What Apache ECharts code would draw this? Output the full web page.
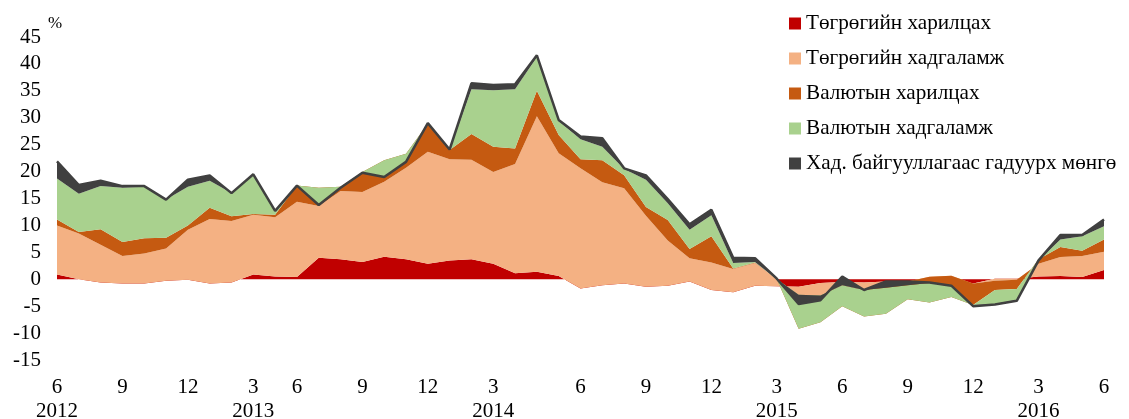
<!DOCTYPE html>
<html>
<head>
<meta charset="utf-8">
<script src="https://cdn.jsdelivr.net/npm/echarts@6/dist/echarts.min.js"></script>
<style>
html,body{margin:0;padding:0;background:#fff;}
#chart{width:1129px;height:419px;}
</style>
</head>
<body>
<div id="chart"></div>
<script>
// Monthly periods, 2012-06 .. 2016-06
const periods = [
  '2012-06','2012-07','2012-08','2012-09','2012-10','2012-11','2012-12',
  '2013-01','2013-02','2013-03','2013-04','2013-05','2013-06','2013-07','2013-08','2013-09','2013-10','2013-11','2013-12',
  '2014-01','2014-02','2014-03','2014-04','2014-05','2014-06','2014-07','2014-08','2014-09','2014-10','2014-11','2014-12',
  '2015-01','2015-02','2015-03','2015-04','2015-05','2015-06','2015-07','2015-08','2015-09','2015-10','2015-11','2015-12',
  '2016-01','2016-02','2016-03','2016-04','2016-05','2016-06'
];
// Tick labels as printed under the axis (one per period, blank = no label)
const tickLabels = [
  '6\n2012','','','9','','','12','','','3\n2013','','6','','','9','','','12','','',
  '3\n2014','','','','6','','','9','','','12','','','3\n2015','','','6','','','9',
  '','','12','','','3\n2016','','','6'
];
const yTicks = [-15,-10,-5,0,5,10,15,20,25,30,35,40,45];

const seriesNames = [
  'Төгрөгийн харилцах',
  'Төгрөгийн хадгаламж',
  'Валютын харилцах',
  'Валютын хадгаламж',
  'Хад. байгууллагаас гадуурх мөнгө'
];

// Contributions (percentage points), stacked cumulatively
const mntCurrent = [
  0.9,0.0,-0.6,-0.8,-0.8,-0.3,-0.1,-0.8,-0.6,0.9,0.5,0.4,4.0,3.7,3.2,4.2,3.7,2.9,3.5,3.7,
  2.9,1.1,1.4,0.6,-1.7,-1.1,-0.8,-1.4,-1.2,-0.4,-2.0,-2.4,-1.2,-1.3,-1.4,-0.7,-0.5,-0.6,-0.4,-0.4,
  -0.3,-0.3,-0.8,0.1,0.1,0.5,0.6,0.4,1.7
];
const mntDeposits = [
  9.1,8.5,7.0,5.1,5.6,6.0,9.3,12.0,11.4,11.1,11.0,14.0,9.6,12.7,13.0,13.9,17.0,20.8,18.8,18.5,
  17.0,20.3,28.9,22.8,22.3,19.1,17.7,13.2,8.4,4.3,5.1,4.3,4.2,1.3,-1.5,-2.3,-0.6,-1.4,0.0,0.0,
  0.75,0.95,0.0,-0.4,-0.2,2.4,3.55,3.9,3.4
];
const fxCurrent = [
  1.1,0.3,2.9,2.6,2.8,2.0,0.8,2.1,0.9,0.1,0.5,3.0,3.4,0.8,3.7,4.0,2.6,5.2,1.7,4.8,
  4.7,2.9,4.7,3.4,1.7,4.1,2.4,1.6,3.8,1.7,4.9,0.1,0.1,0.0,-6.3,-5.0,-3.9,-4.9,-6.0,-3.3,
  -4.75,-3.95,-4.0,-1.7,-1.7,0.8,1.85,1.0,2.3
];
const fxDeposits = [
  7.6,7.1,8.0,10.1,9.6,7.1,7.2,5.0,4.3,7.2,0.6,0.0,-3.2,-0.2,-0.1,-3.1,-1.5,0.0,0.0,8.3,
  10.5,11.0,6.3,2.6,3.7,2.5,1.2,5.1,3.1,3.6,3.9,1.0,0.1,0.0,6.3,5.0,3.9,4.9,4.8,2.6,
  3.6,2.1,0.0,-2.6,-2.0,-0.2,1.4,2.7,2.45
];
const currencyOutside = [
  3.2,1.6,1.0,0.3,0.1,0.0,1.3,1.0,0.0,0.2,0.1,0.0,0.0,0.0,0.0,0.0,0.0,0.1,0.1,1.1,
  1.0,0.9,0.3,0.2,0.5,1.6,0.1,0.8,0.8,1.0,1.0,1.0,0.7,0.1,-1.7,-0.9,1.6,0.0,1.2,0.7,
  0.1,0.0,-0.2,-0.1,-0.2,0.0,0.8,0.2,1.25
];

const seriesData = [mntCurrent, mntDeposits, fxCurrent, fxDeposits, currencyOutside];
const colors = ['#C00000', '#F4B183', '#C55A11', '#A9D18E', '#404040'];

const FONT = '"Liberation Serif", "Times New Roman", serif';

const chart = echarts.init(document.getElementById('chart'), null, {renderer: 'canvas'});

const series = seriesData.map((d, k) => ({
  name: seriesNames[k],
  type: 'line',
  stack: 'total',
  stackStrategy: 'all',
  data: d,
  showSymbol: false,
  symbol: 'none',
  color: colors[k],
  itemStyle: {color: colors[k]},
  lineStyle: k === 4 ? {width: 2.5, color: colors[k]} : {width: 0, color: colors[k]},
  areaStyle: {color: colors[k], opacity: 1},
  emphasis: {disabled: true}
}));

chart.setOption({
  animation: false,
  backgroundColor: '#fff',
  textStyle: {fontFamily: FONT},
  grid: {left: 57, right: 25, top: 37, bottom: 59, containLabel: false, outerBoundsMode: 'none'},
  legend: {
    orient: 'vertical',
    left: 784,
    top: 8,
    icon: 'rect',
    itemWidth: 12,
    itemHeight: 12,
    itemGap: 14,
    data: seriesNames,
    textStyle: {fontFamily: FONT, fontSize: 21.2, color: '#000'}
  },
  xAxis: {
    type: 'category',
    data: periods,
    boundaryGap: false,
    axisLine: {show: false},
    axisTick: {show: false},
    splitLine: {show: false},
    axisLabel: {
      interval: 0,
      formatter: (v, i) => tickLabels[i],
      fontFamily: FONT,
      fontSize: 21,
      lineHeight: 24,
      color: '#000',
      margin: 15
    }
  },
  yAxis: {
    type: 'value',
    min: yTicks[0],
    max: yTicks[yTicks.length - 1],
    interval: 5,
    name: '%',
    nameLocation: 'end',
    nameGap: 5,
    nameTextStyle: {fontFamily: FONT, fontSize: 17, color: '#000', align: 'center', padding: [0, 0, 0, -4]},
    axisLine: {show: false},
    axisTick: {show: false},
    splitLine: {show: false},
    axisLabel: {fontFamily: FONT, fontSize: 21, color: '#000', margin: 16}
  },
  series: series
});
</script>
</body>
</html>
